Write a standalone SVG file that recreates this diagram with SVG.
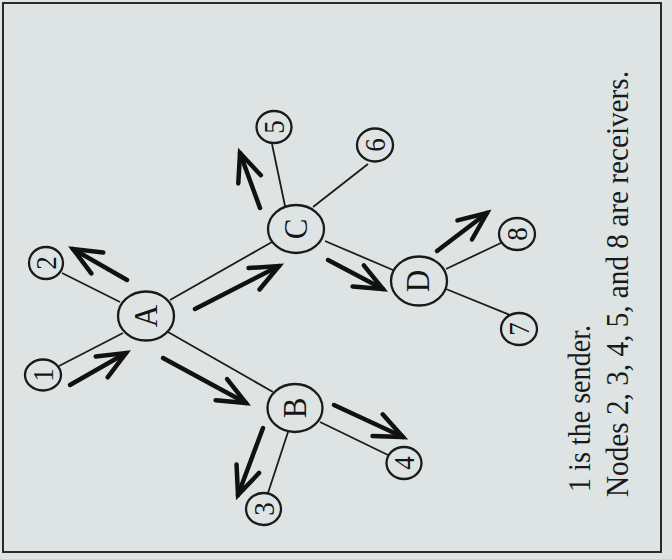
<svg xmlns="http://www.w3.org/2000/svg" width="672" height="559" viewBox="0 0 672 559">
<defs>
<style>
.bg{fill:#dee4e4}
.frame{fill:none;stroke:#2a2a2a;stroke-width:2}
.edge{stroke:#1c1c1c;stroke-width:1.8;fill:none}
.arrow{stroke:#111;stroke-width:4.5;fill:none;stroke-linecap:round;marker-end:url(#head)}
.node ellipse{fill:#dee4e4;stroke:#1a1a1a;stroke-width:2.3}
.lbl{font-family:"Liberation Serif","Times New Roman",serif;fill:#151515;text-anchor:middle}
.big{font-size:31px}
.small{font-size:27px}
.cap{font-family:"Liberation Serif","Times New Roman",serif;fill:#1a1a1a}
</style>
<marker id="head" markerUnits="userSpaceOnUse" viewBox="-34 -18 40 36" markerWidth="40" markerHeight="36" refX="0" refY="0" orient="auto">
<path d="M-28,-12 L0,0 L-28,12" fill="none" stroke="#111" stroke-width="4.5" stroke-linecap="round" stroke-linejoin="miter"/>
</marker>
</defs>
<rect class="bg" x="0" y="0" width="672" height="559"/>
<rect class="frame" x="3" y="3" width="658" height="549"/>

<g id="connectors">
<line class="edge" x1="59" y1="366" x2="123" y2="333"/>
<line class="edge" x1="62" y1="273" x2="120" y2="302"/>
<line class="edge" x1="170" y1="300" x2="272" y2="242"/>
<line class="edge" x1="168" y1="332" x2="273" y2="392"/>
<line class="edge" x1="272" y1="144" x2="285" y2="206"/>
<line class="edge" x1="313" y1="207" x2="368" y2="164"/>
<line class="edge" x1="325" y1="241" x2="393" y2="270"/>
<line class="edge" x1="446" y1="269" x2="503" y2="242"/>
<line class="edge" x1="446" y1="289" x2="515" y2="317"/>
<line class="edge" x1="288" y1="432" x2="268" y2="493"/>
<line class="edge" x1="320" y1="422" x2="388" y2="455"/>

<line class="arrow" x1="70" y1="385" x2="126" y2="353"/>
<line class="arrow" x1="127" y1="280" x2="73" y2="249"/>
<line class="arrow" x1="195" y1="309" x2="279" y2="266"/>
<line class="arrow" x1="163" y1="358" x2="246" y2="403"/>
<line class="arrow" x1="260" y1="208" x2="240" y2="153"/>
<line class="arrow" x1="328" y1="260" x2="383" y2="289"/>
<line class="arrow" x1="437" y1="251" x2="487" y2="213"/>
<line class="arrow" x1="334" y1="405" x2="403" y2="437"/>
<line class="arrow" x1="263" y1="428" x2="238" y2="495"/>
</g>

<g id="node-A" class="node"><ellipse cx="146" cy="316" rx="28" ry="24.5"/><text class="lbl big" transform="translate(146,316) scale(1.12,1) rotate(-90)" x="0" y="10.2">A</text></g>
<g id="node-B" class="node"><ellipse cx="295" cy="408" rx="27.5" ry="24"/><text class="lbl big" transform="translate(295,408) scale(1.12,1) rotate(-90)" x="0" y="10.2">B</text></g>
<g id="node-C" class="node"><ellipse cx="296" cy="229" rx="28" ry="24"/><text class="lbl big" transform="translate(296,229) scale(1.12,1) rotate(-90)" x="0" y="10.2">C</text></g>
<g id="node-D" class="node"><ellipse cx="419" cy="281" rx="28" ry="24.5"/><text class="lbl big" transform="translate(418,281) scale(1.12,1) rotate(-90)" x="0" y="10.2">D</text></g>

<g id="node-1" class="node"><ellipse cx="43" cy="375" rx="18" ry="15.5"/><text class="lbl small" transform="translate(43,375) scale(1.12,1) rotate(-90)" x="0" y="9.1">1</text></g>
<g id="node-2" class="node"><ellipse cx="46" cy="263" rx="17" ry="16"/><text class="lbl small" transform="translate(46,263) scale(1.12,1) rotate(-90)" x="0" y="9.1">2</text></g>
<g id="node-3" class="node"><ellipse cx="263.5" cy="509" rx="17.5" ry="16"/><text class="lbl small" transform="translate(263.5,509) scale(1.12,1) rotate(-90)" x="0" y="9.1">3</text></g>
<g id="node-4" class="node"><ellipse cx="404" cy="463" rx="17.5" ry="16"/><text class="lbl small" transform="translate(404,463) scale(1.12,1) rotate(-90)" x="0" y="9.1">4</text></g>
<g id="node-5" class="node"><ellipse cx="274" cy="127" rx="17.5" ry="16"/><text class="lbl small" transform="translate(274,127) scale(1.12,1) rotate(-90)" x="0" y="9.1">5</text></g>
<g id="node-6" class="node"><ellipse cx="375" cy="145" rx="18" ry="16.5"/><text class="lbl small" transform="translate(375,145) scale(1.12,1) rotate(-90)" x="0" y="9.1">6</text></g>
<g id="node-7" class="node"><ellipse cx="519" cy="329" rx="18" ry="16"/><text class="lbl small" transform="translate(519,329) scale(1.12,1) rotate(-90)" x="0" y="9.1">7</text></g>
<g id="node-8" class="node"><ellipse cx="517" cy="234" rx="18" ry="16"/><text class="lbl small" transform="translate(517,234) scale(1.12,1) rotate(-90)" x="0" y="9.1">8</text></g>

<g id="caption">
<text class="cap" font-size="28" transform="translate(590,492) scale(1.1,1) rotate(-90)" x="0" y="0" textLength="167" lengthAdjust="spacingAndGlyphs">1 is the sender.</text>
<text class="cap" font-size="29" transform="translate(628,497) scale(1.1,1) rotate(-90)" x="0" y="0" textLength="426" lengthAdjust="spacingAndGlyphs">Nodes 2, 3, 4, 5, and 8 are receivers.</text>
</g>
</svg>
